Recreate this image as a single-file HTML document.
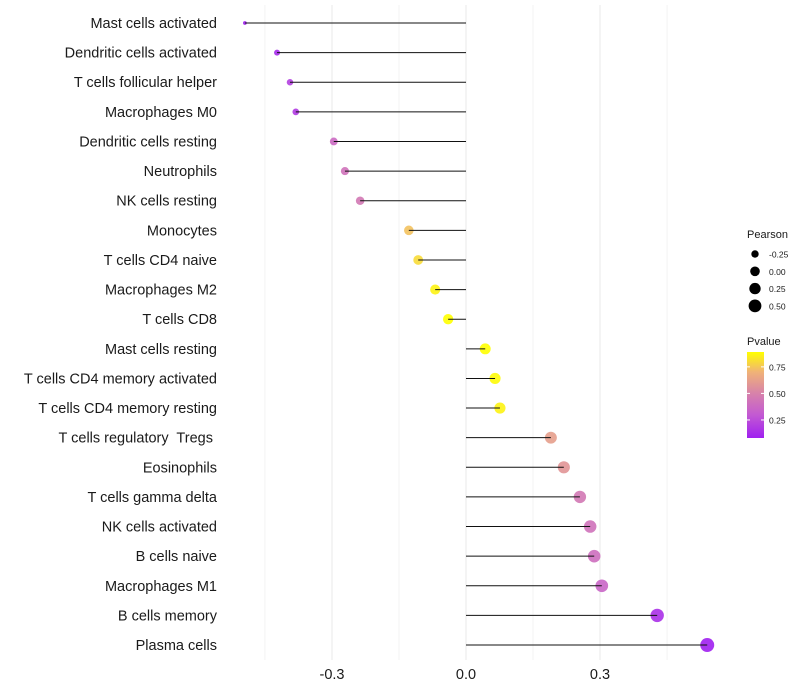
<!DOCTYPE html>
<html><head><meta charset="utf-8"><style>
body{margin:0;background:#fff;}
svg{display:block;font-family:"Liberation Sans",Arial,sans-serif;}
</style></head><body>
<svg id="chart" width="800" height="700"></svg>
<script>
const categories=["Mast cells activated","Dendritic cells activated","T cells follicular helper","Macrophages M0","Dendritic cells resting","Neutrophils","NK cells resting","Monocytes","T cells CD4 naive","Macrophages M2","T cells CD8","Mast cells resting","T cells CD4 memory activated","T cells CD4 memory resting","T cells regulatory  Tregs ","Eosinophils","T cells gamma delta","NK cells activated","B cells naive","Macrophages M1","B cells memory","Plasma cells"];
const pearson=[-0.495,-0.423,-0.394,-0.381,-0.296,-0.271,-0.237,-0.128,-0.107,-0.069,-0.040,0.043,0.065,0.076,0.190,0.219,0.255,0.278,0.287,0.304,0.428,0.540];
const pvalue=[0.08,0.12,0.2,0.18,0.38,0.42,0.45,0.74,0.8,0.86,0.95,0.94,0.88,0.86,0.62,0.58,0.45,0.42,0.4,0.36,0.14,0.08];
const xTicks=[-0.3,0.0,0.3];
const xTickLabels=["-0.3","0.0","0.3"];
const sizeLegend=[-0.25,0.00,0.25,0.50];
const pvalTicks=[0.25,0.50,0.75];

const NS="http://www.w3.org/2000/svg";
const svg=document.getElementById('chart');
function el(t,a,p){const e=document.createElementNS(NS,t);for(const k in a)e.setAttribute(k,a[k]);(p||svg).appendChild(e);return e;}
const x=v=>466+v*446.7;
const y=i=>23+i*29.62;
const r=v=>1.5+5.5*Math.sqrt(Math.max(0,(v+0.5)/1.04));
const stops=[[0.08,[160,32,240]],[0.3,[195,90,210]],[0.5,[215,130,170]],[0.7,[240,178,120]],[0.89,[255,255,0]]];
function col(p){p=Math.max(0.08,Math.min(0.89,p));for(let i=0;i<stops.length-1;i++){const[a,c1]=stops[i],[b,c2]=stops[i+1];if(p<=b){const t=(p-a)/(b-a);return 'rgb('+c1.map((c,j)=>Math.round(c+(c2[j]-c)*t)).join(',')+')';}}return 'rgb(255,255,0)';}
const py=p=>438-(p-0.08)/(0.89-0.08)*86;

const grid=el('g',{});


[-0.45,-0.3,-0.15,0,0.15,0.3,0.45].forEach((v,i)=>{el('line',{x1:x(v),x2:x(v),y1:5,y2:660,stroke:'#ebebeb','stroke-width':i%2==1?1.1:0.6},grid);});

categories.forEach((c,i)=>{
  const t=el('text',{x:217,y:y(i)+5,'text-anchor':'end','font-size':14.5,fill:'#1a1a1a','xml:space':'preserve'});t.textContent=c;t.style.whiteSpace='pre';
  
  
  const d=el('circle',{cx:x(pearson[i]),cy:y(i),r:r(pearson[i]),fill:col(pvalue[i]),'fill-opacity':0.9});
  
  
  const l=el('line',{x1:x(0),x2:x(pearson[i]),y1:y(i),y2:y(i),stroke:'#111','stroke-width':1});
  
  
});
xTicks.forEach((v,i)=>{const t=el('text',{x:x(v),y:679,'text-anchor':'middle','font-size':14.5,fill:'#1a1a1a'});t.textContent=xTickLabels[i];
  
  });

const lg=el('g',{});


el('text',{x:747,y:238,'font-size':11,fill:'#1a1a1a'},lg).textContent='Pearson';
sizeLegend.forEach((v,i)=>{const cy=254+i*17.3;el('circle',{cx:755,cy:cy,r:r(v)-0.5,fill:'#000'},lg);el('text',{x:769,y:cy+3.5,'font-size':8.5,fill:'#1a1a1a'},lg).textContent=v.toFixed(2);});

const cg=el('g',{});


el('text',{x:747,y:345,'font-size':11,fill:'#1a1a1a'},cg).textContent='Pvalue';
const defs=el('defs',{});const gr=el('linearGradient',{id:'pg',x1:0,y1:1,x2:0,y2:0},defs);
stops.forEach(s=>el('stop',{offset:(s[0]-0.08)/(0.81),'stop-color':'rgb('+s[1].join(',')+')'},gr));
el('rect',{x:747,y:352,width:17,height:86,fill:'url(#pg)'},cg);
pvalTicks.forEach(v=>{el('line',{x1:747,x2:750,y1:py(v),y2:py(v),stroke:'#fff'},cg);el('line',{x1:761,x2:764,y1:py(v),y2:py(v),stroke:'#fff'},cg);el('text',{x:769,y:py(v)+3.5,'font-size':8.5,fill:'#1a1a1a'},cg).textContent=v.toFixed(2);});
</script>
</body></html>
